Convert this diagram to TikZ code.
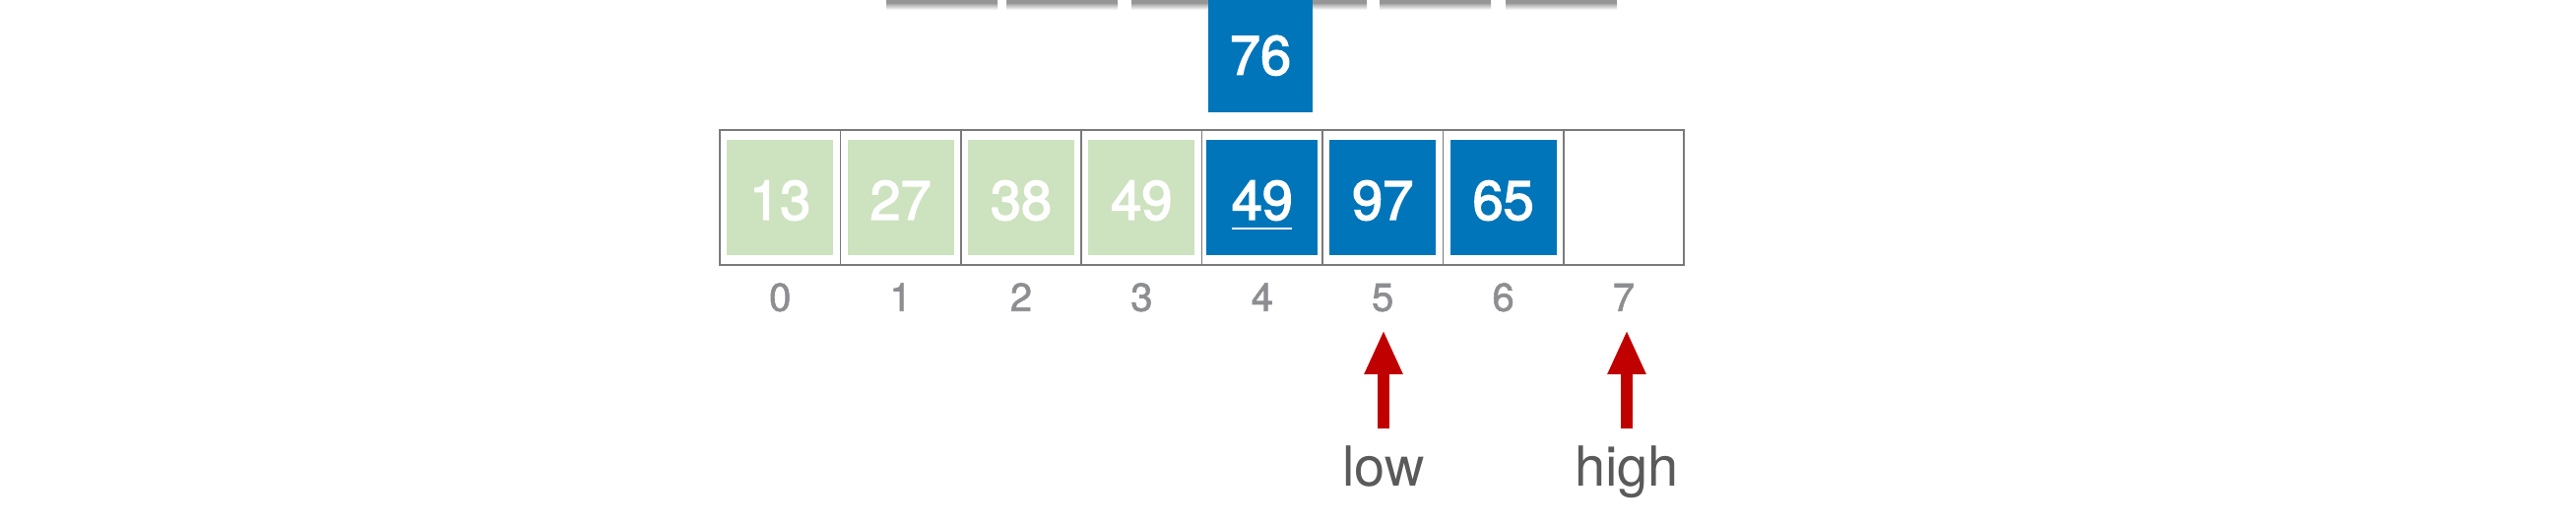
\documentclass[tikz,border=0pt]{standalone}
\usepackage{fontspec}
\setmainfont{TeX Gyre Heros}
\newfontfamily\medfont[FakeBold=2.5]{TeX Gyre Heros}
\newfontfamily\idxfont[FakeBold=1.5]{TeX Gyre Heros}
\usetikzlibrary{arrows.meta}
\definecolor{cellgreen}{RGB}{205,226,190}
\definecolor{cellblue}{RGB}{0,117,186}
\definecolor{idxgray}{RGB}{140,142,146}
\definecolor{labgray}{RGB}{90,90,90}
\definecolor{arrred}{RGB}{192,0,0}
\definecolor{bordergray}{RGB}{122,122,122}
\definecolor{topgray}{RGB}{150,150,150}
\tikzset{
  cellbox/.style={draw=bordergray, line width=1.5pt, minimum width=122.4pt, minimum height=137pt, inner sep=0pt},
  valbox/.style={minimum width=108pt, minimum height=117pt, inner sep=0pt, text=white, font=\medfont\fontsize{56}{60}\selectfont, text height=45pt, text depth=0pt},
  greenbox/.style={valbox, fill=cellgreen},
  bluebox/.style={valbox, fill=cellblue},
  topbox/.style={fill=topgray, minimum width=113pt, minimum height=40pt, inner sep=0pt},
  idx/.style={text=idxgray, font=\idxfont\fontsize{40}{44}\selectfont, inner sep=0pt, anchor=base},
  ptrlab/.style={text=labgray, font=\fontsize{56}{60}\selectfont, inner sep=0pt, anchor=base},
  ptr/.style={draw=arrred, line width=11.5pt, -{Triangle[width=36pt,length=45pt]}}
}
\begin{document}
\begin{tikzpicture}[x=1pt,y=-1pt]
\useasboundingbox (0,0) rectangle (2616,534);
% partially visible boxes at the top
\foreach \x [count=\k] in {900,1022,1149,1275,1401,1529}{
  \shade[top color=topgray!80, bottom color=white] (\x,4) rectangle (\x+113,10);
  \node[topbox, anchor=south west] (t\k) at (\x,4) {};
}
% moving element
\node[bluebox, minimum width=106pt, text height=41pt, anchor=south] (m) at (1280,114) {76};
% array cells
\foreach \i in {0,...,7}{
  \node[cellbox] (c\i) at ({731+122.4*(\i+0.5)},200.5) {};
}
\node[greenbox] (b0) at (c0.center) {13};
\node[greenbox] (b1) at (c1.center) {27};
\node[greenbox] (b2) at (c2.center) {38};
\node[greenbox] (b3) at (c3.center) {49};
\node[bluebox, minimum width=113pt] (b4) at (c4.center) {49};
\node[bluebox] (b5) at (c5.center) {97};
\node[bluebox] (b6) at (c6.center) {65};
\draw[white, line width=2.7pt] ([xshift=-30.5pt,yshift=-31.5pt]b4.center) -- ([xshift=30.5pt,yshift=-31.5pt]b4.center);
% indices
\foreach \i in {0,...,7}{
  \node[idx] (i\i) at ([yshift=-46pt]c\i.south) {\i};
}
% pointers
\node[ptrlab] (low) at (1405,493) {low};
\node[ptrlab] (high) at (1652,493) {high};
\coordinate (lowtail) at (1405,435);
\coordinate (lowtip) at (1405,335);
\coordinate (hightail) at (1652,435);
\coordinate (hightip) at (1652,335);
\draw[ptr] (lowtail) -- (lowtip);
\draw[ptr] (hightail) -- (hightip);
\end{tikzpicture}
\end{document}
